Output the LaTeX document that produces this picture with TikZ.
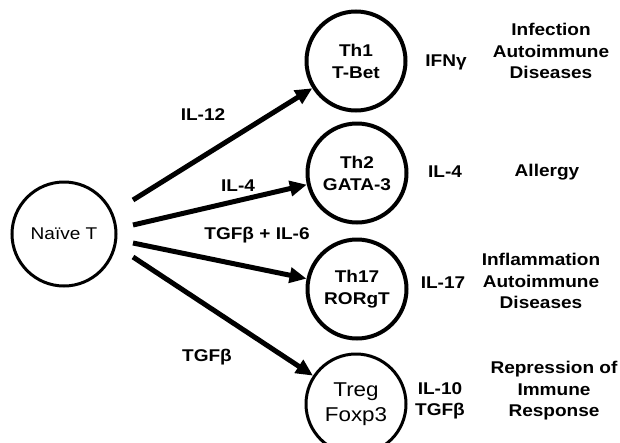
\documentclass[tikz,border=0pt]{standalone}
\usepackage{fontspec}
\setmainfont{Liberation Sans}[FakeStretch=1.12]
\usetikzlibrary{arrows.meta}
\begin{document}
\begin{tikzpicture}[x=1pt,y=-1pt,
  cellb/.style={circle,draw,line width=4pt,minimum size=99pt,inner sep=0pt,align=center,font=\fontsize{17}{22}\selectfont\bfseries},
  cellr/.style={circle,draw,line width=3pt,minimum size=100pt,inner sep=0pt,align=center},
  lab/.style={align=center,inner sep=0pt,font=\fontsize{17}{21.5}\selectfont\bfseries},
  arr/.style={line width=5pt,-{Triangle[length=17pt,width=15pt]}}]
\useasboundingbox (0,0) rectangle (620,442);
\node[cellr,minimum size=104pt,font=\fontsize{17}{22}\selectfont] (naive) at (64,234) {Naïve T};
\node[cellb] (th1) at (356,61) {Th1\\T-Bet};
\node[cellb] (th2) at (357,173) {Th2\\GATA-3};
\node[cellb] (th17) at (357,289) {Th17\\RORgT};
\node[cellr,font=\fontsize{20}{25}\selectfont] (treg) at (356,404) {Treg\\Foxp3};
\coordinate (s1) at (133,200);
\coordinate (s2) at (133,225);
\coordinate (s3) at (133,243);
\coordinate (s4) at (133,257);
\draw[arr] (s1) -- (th1);
\draw[arr] (s2) -- (th2);
\draw[arr] (s3) -- (th17);
\draw[arr] (s4) -- (treg);
\node[lab] (l1) at (203,115) {IL-12};
\node[lab] (l2) at (238,186) {IL-4};
\node[lab] (l3) at (257,235) {TGFβ + IL-6};
\node[lab] (l4) at (207,357) {TGFβ};
\node[lab] (c1) at (446,62) {IFNγ};
\node[lab] (c2) at (445,172) {IL-4};
\node[lab] (c3) at (443,283) {IL-17};
\node[lab] (c4) at (440,401) {IL-10\\TGFβ};
\node[lab] (d1) at (551,51) {Infection\\Autoimmune\\Diseases};
\node[lab] (d2) at (547,172) {Allergy};
\node[lab] (d3) at (541,281) {Inflammation\\Autoimmune\\Diseases};
\node[lab] (d4) at (554,391) {Repression of\\Immune\\Response};
\end{tikzpicture}
\end{document}
